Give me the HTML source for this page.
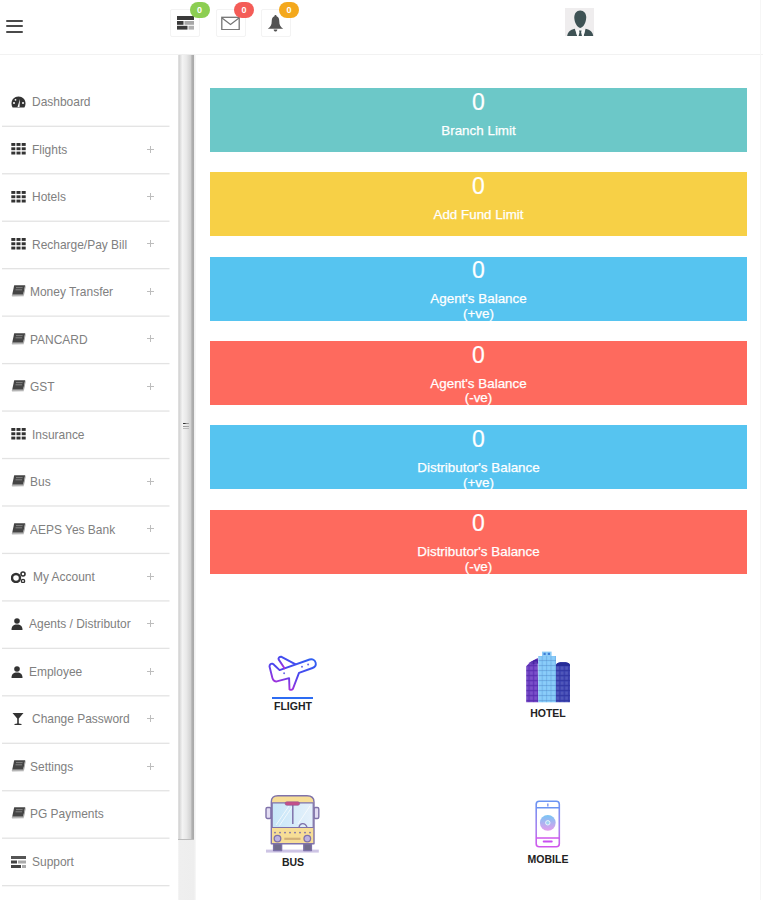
<!DOCTYPE html>
<html><head><meta charset="utf-8">
<style>
*{box-sizing:border-box;margin:0;padding:0}
html,body{width:763px;height:900px;overflow:hidden;background:#fff;font-family:"Liberation Sans",sans-serif}
.abs{position:absolute}
#hdr{position:absolute;left:0;top:0;width:763px;height:55px;border-bottom:1px solid #f2f2f2;background:#fff}
.hb{position:absolute;left:6px;width:17px;height:2.4px;background:#4a4a4a;border-radius:1px}
.ibox{position:absolute;top:8.7px;width:30px;height:28px;border:1px solid #f3f3f3;border-radius:2px}
.badge{position:absolute;width:20px;height:16px;border-radius:8px;color:#fff;font-weight:bold;font-size:9px;line-height:16px;text-align:center}
#side{position:absolute;left:0;top:55px;width:178px;height:845px;background:#fff}
.item{position:absolute;left:0;width:169.5px;height:47.5px}

.item .t{position:absolute;left:32px;top:15.6px;font-size:13px;color:#808080;white-space:nowrap;line-height:16px;transform:scaleX(0.92);transform-origin:0 0}
.item .ic{position:absolute;left:11px;top:17.5px;width:15px;height:12px}
.item .pl{position:absolute;left:147px;top:19.3px;width:7px;height:7px}
.item .pl:before{content:"";position:absolute;left:3px;top:0;width:1px;height:7px;background:#bdbdbd}
.item .pl:after{content:"";position:absolute;left:0;top:3px;width:7px;height:1px;background:#bdbdbd}
#sb{position:absolute;left:178px;top:54px;width:17.5px;height:846px;background:linear-gradient(to right,#f6f6f6 0,#efefef 1.5px,#eeeeee 16px,#f6f6f6 17.5px)}
#thumb{position:absolute;left:0.2px;top:0.5px;width:15.8px;height:785.5px;border-bottom:1.3px solid #bcbcbc;
 background:linear-gradient(to right,#e2e2e2 0,#d6d6d6 1.5px,#e6e6e6 3px,#f3f3f3 4.5px,#e8e8e8 8.5px,#d3d3d3 12.5px,#b0b0b0 14px,#a9a9a9 15.8px)}
.grip{position:absolute;left:5.3px;width:6px;height:1.3px}
.card{position:absolute;left:209.8px;width:537.4px;height:64px;color:#fff;text-align:center}
.card .n{position:absolute;left:0;right:0;top:0.5px;font-size:23px;line-height:26px;-webkit-text-stroke:0.2px #fff}
.card .l{position:absolute;left:0;right:0;top:35.7px;font-size:13.4px;line-height:14.5px;-webkit-text-stroke:0.25px #fff}
.svc{position:absolute;text-align:center;font-weight:bold;font-size:10.5px;color:#222}
</style></head><body>
<div id="hdr">
  <div class="hb" style="top:19.5px"></div>
  <div class="hb" style="top:25px"></div>
  <div class="hb" style="top:30.6px"></div>

  <div class="ibox" style="left:170px"></div>
  <div class="ibox" style="left:215.5px"></div>
  <div class="ibox" style="left:261px"></div>
  <!-- list icon -->
  <svg class="abs" style="left:176.5px;top:15.5px" width="17.5" height="14" viewBox="0 0 17.5 14">
    <rect x="0" y="0" width="17.5" height="4" fill="#3a3a3a"/>
    <rect x="0" y="5" width="6.5" height="3.8" fill="#3a3a3a"/><rect x="7.5" y="5" width="10" height="3.8" fill="#a8a8a8"/>
    <rect x="0" y="9.8" width="10.5" height="3.8" fill="#3a3a3a"/><rect x="11.5" y="9.8" width="6" height="3.8" fill="#b0b0b0"/>
  </svg>
  <!-- mail icon -->
  <svg class="abs" style="left:221px;top:16px" width="19" height="14" viewBox="0 0 19 14">
    <rect x="0.8" y="1.3" width="17.4" height="12.4" fill="none" stroke="#747474" stroke-width="1.3"/>
    <path d="M1 2 L9.5 8.5 L18 2" fill="none" stroke="#747474" stroke-width="1.2"/>
  </svg>
  <!-- bell -->
  <svg class="abs" style="left:267px;top:15px" width="17" height="17" viewBox="0 0 17 17">
    <path d="M8.5 0 C9.2 0 9.5 0.6 9.6 1.2 C11.6 1.8 12.3 3.8 12.3 6.5 C12.3 9.8 13.2 11.6 16.2 13.8 L0.8 13.8 C3.8 11.6 4.7 9.8 4.7 6.5 C4.7 3.8 5.4 1.8 7.4 1.2 C7.5 0.6 7.8 0 8.5 0 Z" fill="#535353"/>
    <path d="M6.6 14.4 C6.9 15.8 7.6 16.5 8.5 16.5 C9.4 16.5 10.1 15.8 10.4 14.4 Z" fill="#535353"/>
  </svg>
  <div class="badge" style="left:189.5px;top:1.5px;background:#8cce52">0</div>
  <div class="badge" style="left:234px;top:2px;background:#f45c57">0</div>
  <div class="badge" style="left:279px;top:2px;background:#f4a81c">0</div>

  <!-- avatar -->
  <svg class="abs" style="left:565px;top:7.5px" width="29" height="28.5" viewBox="0 0 29 28.5">
    <rect width="29" height="28.5" fill="#efedee"/>
    <path d="M15.2 2.6 C19 2.6 21.2 5.5 21.2 9.5 C21.2 14 18.5 19.6 15.2 19.9 C12 19.6 9.3 14 9.3 9.5 C9.3 5.5 11.5 2.6 15.2 2.6 Z" fill="#3e5254"/>
    <path d="M2.2 28 C2.8 24 5 22 9.8 20.8 L12.2 28 Z" fill="#3e5254"/>
    <path d="M28.2 28 C27.6 24 25.4 22 20.6 20.8 L18.6 28 Z" fill="#3e5254"/>
    <path d="M10.6 21.8 L20 21.8 L18.6 28 L12.2 28 Z" fill="#fbfbfb"/><path d="M14 22.6 L16.6 22.6 L16.1 24.3 L17 28 L13.6 28 L14.5 24.3 Z" fill="#3e5254"/>
  </svg>
</div>

<div id="side">
<div class="item" style="top:23.80px"><svg class="ic" viewBox="0 0 15 12"><path d="M7.5 0.5 C3.4 0.5 0.5 3.6 0.5 7.5 C0.5 9 0.9 10.4 1.6 11.5 L13.4 11.5 C14.1 10.4 14.5 9 14.5 7.5 C14.5 3.6 11.6 0.5 7.5 0.5 Z" fill="#333"/><path d="M6.5 11 L9 3 L8.5 11 Z" fill="#fff"/><circle cx="3" cy="7" r="1" fill="#fff"/><circle cx="12" cy="7" r="1" fill="#fff"/><circle cx="4.5" cy="3.8" r="0.9" fill="#fff"/></svg><div class="t" style="left:32px">Dashboard</div></div>
<div class="item" style="top:71.26px"><svg class="ic" viewBox="0 0 15 12" style="top:16.8px"><g fill="#333"><rect x="0.3" y="0" width="4" height="2.9"/><rect x="5.5" y="0" width="4" height="2.9"/><rect x="10.7" y="0" width="4" height="2.9"/><rect x="0.3" y="4.3" width="4" height="2.9"/><rect x="5.5" y="4.3" width="4" height="2.9"/><rect x="10.7" y="4.3" width="4" height="2.9"/><rect x="0.3" y="8.6" width="4" height="2.9"/><rect x="5.5" y="8.6" width="4" height="2.9"/><rect x="10.7" y="8.6" width="4" height="2.9"/></g></svg><div class="t" style="left:32px">Flights</div><div class="pl"></div></div>
<div class="item" style="top:118.72px"><svg class="ic" viewBox="0 0 15 12" style="top:16.8px"><g fill="#333"><rect x="0.3" y="0" width="4" height="2.9"/><rect x="5.5" y="0" width="4" height="2.9"/><rect x="10.7" y="0" width="4" height="2.9"/><rect x="0.3" y="4.3" width="4" height="2.9"/><rect x="5.5" y="4.3" width="4" height="2.9"/><rect x="10.7" y="4.3" width="4" height="2.9"/><rect x="0.3" y="8.6" width="4" height="2.9"/><rect x="5.5" y="8.6" width="4" height="2.9"/><rect x="10.7" y="8.6" width="4" height="2.9"/></g></svg><div class="t" style="left:32px">Hotels</div><div class="pl"></div></div>
<div class="item" style="top:166.18px"><svg class="ic" viewBox="0 0 15 12" style="top:16.8px"><g fill="#333"><rect x="0.3" y="0" width="4" height="2.9"/><rect x="5.5" y="0" width="4" height="2.9"/><rect x="10.7" y="0" width="4" height="2.9"/><rect x="0.3" y="4.3" width="4" height="2.9"/><rect x="5.5" y="4.3" width="4" height="2.9"/><rect x="10.7" y="4.3" width="4" height="2.9"/><rect x="0.3" y="8.6" width="4" height="2.9"/><rect x="5.5" y="8.6" width="4" height="2.9"/><rect x="10.7" y="8.6" width="4" height="2.9"/></g></svg><div class="t" style="left:32px">Recharge/Pay Bill</div><div class="pl"></div></div>
<div class="item" style="top:213.64px"><svg class="ic" viewBox="0 0 15 12" style="top:16.8px"><path d="M3.2 0.3 L14.2 0.3 L12.2 9.8 L1.2 9.8 Z" fill="#454545"/><path d="M12.2 9.8 L14.2 0.3 L14.6 1.8 L12.8 11.2 Z" fill="#9a9a9a"/><path d="M1.2 9.8 L12.2 9.8 L12.8 11.2 L1.4 11.6 C0.6 11.6 0.5 10.3 1.2 9.8 Z" fill="#b5b5b5"/><path d="M5 2.6 L11.6 2.6 M4.5 4.8 L11.1 4.8" stroke="#8a8a8a" stroke-width="0.9"/></svg><div class="t" style="left:30.3px">Money Transfer</div><div class="pl"></div></div>
<div class="item" style="top:261.10px"><svg class="ic" viewBox="0 0 15 12" style="top:16.8px"><path d="M3.2 0.3 L14.2 0.3 L12.2 9.8 L1.2 9.8 Z" fill="#454545"/><path d="M12.2 9.8 L14.2 0.3 L14.6 1.8 L12.8 11.2 Z" fill="#9a9a9a"/><path d="M1.2 9.8 L12.2 9.8 L12.8 11.2 L1.4 11.6 C0.6 11.6 0.5 10.3 1.2 9.8 Z" fill="#b5b5b5"/><path d="M5 2.6 L11.6 2.6 M4.5 4.8 L11.1 4.8" stroke="#8a8a8a" stroke-width="0.9"/></svg><div class="t" style="left:30.3px">PANCARD</div><div class="pl"></div></div>
<div class="item" style="top:308.56px"><svg class="ic" viewBox="0 0 15 12" style="top:16.8px"><path d="M3.2 0.3 L14.2 0.3 L12.2 9.8 L1.2 9.8 Z" fill="#454545"/><path d="M12.2 9.8 L14.2 0.3 L14.6 1.8 L12.8 11.2 Z" fill="#9a9a9a"/><path d="M1.2 9.8 L12.2 9.8 L12.8 11.2 L1.4 11.6 C0.6 11.6 0.5 10.3 1.2 9.8 Z" fill="#b5b5b5"/><path d="M5 2.6 L11.6 2.6 M4.5 4.8 L11.1 4.8" stroke="#8a8a8a" stroke-width="0.9"/></svg><div class="t" style="left:30.3px">GST</div><div class="pl"></div></div>
<div class="item" style="top:356.02px"><svg class="ic" viewBox="0 0 15 12" style="top:16.8px"><g fill="#333"><rect x="0.3" y="0" width="4" height="2.9"/><rect x="5.5" y="0" width="4" height="2.9"/><rect x="10.7" y="0" width="4" height="2.9"/><rect x="0.3" y="4.3" width="4" height="2.9"/><rect x="5.5" y="4.3" width="4" height="2.9"/><rect x="10.7" y="4.3" width="4" height="2.9"/><rect x="0.3" y="8.6" width="4" height="2.9"/><rect x="5.5" y="8.6" width="4" height="2.9"/><rect x="10.7" y="8.6" width="4" height="2.9"/></g></svg><div class="t" style="left:32px">Insurance</div></div>
<div class="item" style="top:403.48px"><svg class="ic" viewBox="0 0 15 12" style="top:16.8px"><path d="M3.2 0.3 L14.2 0.3 L12.2 9.8 L1.2 9.8 Z" fill="#454545"/><path d="M12.2 9.8 L14.2 0.3 L14.6 1.8 L12.8 11.2 Z" fill="#9a9a9a"/><path d="M1.2 9.8 L12.2 9.8 L12.8 11.2 L1.4 11.6 C0.6 11.6 0.5 10.3 1.2 9.8 Z" fill="#b5b5b5"/><path d="M5 2.6 L11.6 2.6 M4.5 4.8 L11.1 4.8" stroke="#8a8a8a" stroke-width="0.9"/></svg><div class="t" style="left:30.3px">Bus</div><div class="pl"></div></div>
<div class="item" style="top:450.94px"><svg class="ic" viewBox="0 0 15 12" style="top:16.8px"><path d="M3.2 0.3 L14.2 0.3 L12.2 9.8 L1.2 9.8 Z" fill="#454545"/><path d="M12.2 9.8 L14.2 0.3 L14.6 1.8 L12.8 11.2 Z" fill="#9a9a9a"/><path d="M1.2 9.8 L12.2 9.8 L12.8 11.2 L1.4 11.6 C0.6 11.6 0.5 10.3 1.2 9.8 Z" fill="#b5b5b5"/><path d="M5 2.6 L11.6 2.6 M4.5 4.8 L11.1 4.8" stroke="#8a8a8a" stroke-width="0.9"/></svg><div class="t" style="left:30.3px">AEPS Yes Bank</div><div class="pl"></div></div>
<div class="item" style="top:498.40px"><svg class="ic" viewBox="0 0 15 12"><circle cx="5" cy="7" r="4" fill="none" stroke="#333" stroke-width="2.4"/><circle cx="12" cy="3" r="2" fill="none" stroke="#333" stroke-width="1.6"/><circle cx="12" cy="10" r="1.6" fill="none" stroke="#333" stroke-width="1.4"/></svg><div class="t" style="left:32.7px">My Account</div><div class="pl"></div></div>
<div class="item" style="top:545.86px"><svg class="ic" viewBox="0 0 15 12"><circle cx="6" cy="3" r="2.8" fill="#333"/><path d="M0.5 12 C0.5 8 2.5 6.5 6 6.5 C9.5 6.5 11.5 8 11.5 12 Z" fill="#333"/></svg><div class="t" style="left:28.5px">Agents / Distributor</div><div class="pl"></div></div>
<div class="item" style="top:593.32px"><svg class="ic" viewBox="0 0 15 12"><circle cx="6" cy="3" r="2.8" fill="#333"/><path d="M0.5 12 C0.5 8 2.5 6.5 6 6.5 C9.5 6.5 11.5 8 11.5 12 Z" fill="#333"/></svg><div class="t" style="left:28.5px">Employee</div><div class="pl"></div></div>
<div class="item" style="top:640.78px"><svg class="ic" viewBox="0 0 15 12" style="left:12px"><path d="M0.5 0 L11.5 0 L6.8 5.5 L6.8 10.5 L9.5 11 L9.5 12 L2.5 12 L2.5 11 L5.2 10.5 L5.2 5.5 Z" fill="#333"/></svg><div class="t" style="left:31.7px">Change Password</div><div class="pl"></div></div>
<div class="item" style="top:688.24px"><svg class="ic" viewBox="0 0 15 12" style="top:16.8px"><path d="M3.2 0.3 L14.2 0.3 L12.2 9.8 L1.2 9.8 Z" fill="#454545"/><path d="M12.2 9.8 L14.2 0.3 L14.6 1.8 L12.8 11.2 Z" fill="#9a9a9a"/><path d="M1.2 9.8 L12.2 9.8 L12.8 11.2 L1.4 11.6 C0.6 11.6 0.5 10.3 1.2 9.8 Z" fill="#b5b5b5"/><path d="M5 2.6 L11.6 2.6 M4.5 4.8 L11.1 4.8" stroke="#8a8a8a" stroke-width="0.9"/></svg><div class="t" style="left:30.3px">Settings</div><div class="pl"></div></div>
<div class="item" style="top:735.70px"><svg class="ic" viewBox="0 0 15 12" style="top:16.8px"><path d="M3.2 0.3 L14.2 0.3 L12.2 9.8 L1.2 9.8 Z" fill="#454545"/><path d="M12.2 9.8 L14.2 0.3 L14.6 1.8 L12.8 11.2 Z" fill="#9a9a9a"/><path d="M1.2 9.8 L12.2 9.8 L12.8 11.2 L1.4 11.6 C0.6 11.6 0.5 10.3 1.2 9.8 Z" fill="#b5b5b5"/><path d="M5 2.6 L11.6 2.6 M4.5 4.8 L11.1 4.8" stroke="#8a8a8a" stroke-width="0.9"/></svg><div class="t" style="left:30.3px">PG Payments</div></div>
<div class="item" style="top:783.16px"><svg class="ic" viewBox="0 0 15 12"><rect x="0" y="0" width="15" height="3" fill="#555"/><rect x="0" y="4.5" width="6" height="3" fill="#444"/><rect x="7" y="4.5" width="8" height="3" fill="#aaa"/><rect x="0" y="9" width="10" height="3" fill="#444"/><rect x="11" y="9" width="4" height="3" fill="#aaa"/></svg><div class="t" style="left:31.7px">Support</div></div>
</div>
<svg class="abs" style="left:0;top:0" width="178" height="900" viewBox="0 0 178 900"><g fill="#e3e3e3"><rect x="2" y="125.65" width="167.5" height="1.3"/><rect x="2" y="173.11" width="167.5" height="1.3"/><rect x="2" y="220.57" width="167.5" height="1.3"/><rect x="2" y="268.03" width="167.5" height="1.3"/><rect x="2" y="315.49" width="167.5" height="1.3"/><rect x="2" y="362.95" width="167.5" height="1.3"/><rect x="2" y="410.41" width="167.5" height="1.3"/><rect x="2" y="457.87" width="167.5" height="1.3"/><rect x="2" y="505.33" width="167.5" height="1.3"/><rect x="2" y="552.79" width="167.5" height="1.3"/><rect x="2" y="600.25" width="167.5" height="1.3"/><rect x="2" y="647.71" width="167.5" height="1.3"/><rect x="2" y="695.17" width="167.5" height="1.3"/><rect x="2" y="742.63" width="167.5" height="1.3"/><rect x="2" y="790.09" width="167.5" height="1.3"/><rect x="2" y="837.55" width="167.5" height="1.3"/><rect x="2" y="885.01" width="167.5" height="1.3"/></g></svg>
<div id="sb"><div id="thumb"><div class="grip" style="top:368px;background:linear-gradient(to right,#333 0,#333 2px,#888 3px,#aaa 6px)"></div><div class="grip" style="top:371px;background:linear-gradient(to right,#999 0,#aaa 6px)"></div><div class="grip" style="top:373.5px;background:#bbb"></div></div></div>
<div class="abs" style="left:760px;top:0;width:1px;height:900px;background:#f6f6f6"></div>

<div class="card" style="top:88.00px;background:#6cc8c8"><div class="n">0</div><div class="l">Branch Limit</div></div>
<div class="card" style="top:172.36px;background:#f7d046"><div class="n">0</div><div class="l">Add Fund Limit</div></div>
<div class="card" style="top:256.72px;background:#56c4f0"><div class="n">0</div><div class="l">Agent's Balance<br>(+ve)</div></div>
<div class="card" style="top:341.08px;background:#fe6a5e"><div class="n">0</div><div class="l">Agent's Balance<br>(-ve)</div></div>
<div class="card" style="top:425.44px;background:#56c4f0"><div class="n">0</div><div class="l">Distributor's Balance<br>(+ve)</div></div>
<div class="card" style="top:509.80px;background:#fe6a5e"><div class="n">0</div><div class="l">Distributor's Balance<br>(-ve)</div></div>

<!-- FLIGHT -->
<svg class="abs" style="left:266px;top:652px" width="54" height="42" viewBox="0 0 54 42">
  <defs><linearGradient id="gf" x1="1" y1="0" x2="0.3" y2="1"><stop offset="0" stop-color="#2f62f2"/><stop offset="0.55" stop-color="#4a45ee"/><stop offset="1" stop-color="#b52ed8"/></linearGradient></defs>
  <g fill="none" stroke="url(#gf)" stroke-width="1.9" stroke-linejoin="round" stroke-linecap="round">
    <path d="M3.5 14.5 C3.5 12.5 5 11.5 6.4 11.7 C7.5 11.9 8 12.5 9 13.8 L13.6 18.1 L43.6 7.5 C46.5 6.5 49 8 49.7 10.9 C50.2 13.2 49.2 15 46.5 16 L33 20.8 L26.9 36.8 C26.5 37.8 24 38.2 23.5 37.5 L23.1 26.1 L11.7 29.2 C9 30 7 28.5 6.4 26.1 Z"/>
    <path d="M18.5 16.2 L12.6 7.4 C12 6 13.5 4.5 15.5 4.8 L29.2 12.1"/>
  </g>
  <g fill="#6a6ae8"><circle cx="18.1" cy="21.2" r="1"/><circle cx="36" cy="14.7" r="1"/><circle cx="42.1" cy="12.4" r="1"/></g>
</svg>
<div class="abs" style="left:272px;top:696.5px;width:41px;height:2.2px;background:#2d6cf2"></div>
<div class="svc" style="left:253px;top:700px;width:80px;line-height:12px">FLIGHT</div>

<!-- HOTEL -->
<svg class="abs" style="left:525px;top:650px" width="47" height="54" viewBox="0 0 47 54">
  <defs>
    <pattern id="win" x="0" y="1" width="4.4" height="5" patternUnits="userSpaceOnUse"><rect x="0.5" y="0.5" width="2.8" height="3.2" fill="#ffffff" opacity="0.12"/><rect x="0" y="4" width="4.4" height="1" fill="#1a1060" opacity="0.13"/><rect x="3.6" y="0" width="0.8" height="5" fill="#1a1060" opacity="0.1"/></pattern>
  </defs>
  <path d="M1.2 52.3 L1.2 16.3 L5 12.3 L12.6 8.2 L13.3 52.3 Z" fill="#6838c0"/>
  <path d="M5 12.3 L12.6 8.2 L13.3 13.5 L6 14.5 Z" fill="#4a22a8"/>
  <path d="M1.2 52.3 L1.2 16.3 L5 12.3 L12.6 8.2 L13.3 52.3 Z" fill="url(#win)"/>
  <rect x="13.3" y="6" width="17.7" height="46.3" fill="#7cc5f7"/>
  <rect x="17" y="1.6" width="9.6" height="4.6" fill="#8ccbf6"/>
  <rect x="18.5" y="2.8" width="2.2" height="2.2" fill="#3f7fd8"/><rect x="22.8" y="2.8" width="2.2" height="2.2" fill="#3f7fd8"/>
  <rect x="13.3" y="6" width="17.7" height="46.3" fill="url(#win)"/>
  <path d="M31 52.3 L31 14.8 C32 12.6 34 12.2 38 12.2 C42 12.2 44 12.6 45 14.8 L45 52.3 Z" fill="#3840b0"/>
  <path d="M31 16 L31 14.8 C32 12.6 34 12.2 38 12.2 C42 12.2 44 12.6 45 14.8 L45 16 Z" fill="#262c98"/>
  <rect x="31" y="16" width="14" height="36.3" fill="url(#win)"/>
</svg>
<div class="svc" style="left:508px;top:706.5px;width:80px;line-height:12px">HOTEL</div>

<!-- BUS -->
<svg class="abs" style="left:265px;top:794px" width="59" height="60" viewBox="0 0 59 60">
  <defs><linearGradient id="gw" x1="0" y1="0" x2="1" y2="0"><stop offset="0" stop-color="#c6e6f8"/><stop offset="1" stop-color="#e6f1fb"/></linearGradient></defs>
  <rect x="1" y="55.6" width="52.8" height="3" fill="#cdc4e4"/>
  <g stroke="#7f72aa" stroke-width="1.4" stroke-linejoin="round">
    <rect x="8.6" y="49" width="8" height="7.6" fill="#706c8c"/>
    <rect x="38.8" y="49" width="7.6" height="7.6" fill="#706c8c"/>
    <rect x="1" y="13.5" width="5" height="11" rx="1.5" fill="#e2dcf2"/>
    <rect x="49" y="13.5" width="4.8" height="11" rx="1.5" fill="#e2dcf2"/>
    <path d="M6.3 49.7 L6.3 8 C6.3 3.5 8.5 1.8 13 1.8 L42 1.8 C46.5 1.8 49 3.5 49 8 L49 49.7 Z" fill="#f7de96"/>
    <rect x="7.2" y="8.8" width="41" height="24.7" fill="url(#gw)" stroke-width="1.2"/>
  </g>
  <path d="M11 31 L24 12 M14.5 31.5 L27 13 M33 30 L45 12" stroke="#fff" stroke-width="1" opacity="0.7"/>
  <path d="M27.8 11 L27.8 30" stroke="#7f72aa" stroke-width="1.5"/>
  <path d="M34 33 C35 29 40 28 42 33" fill="none" stroke="#7f72aa" stroke-width="1.3"/>
  <rect x="20.1" y="7.8" width="14.5" height="3.5" rx="1.7" fill="#c4508a" stroke="#8d5a8e" stroke-width="0.6"/>
  <g fill="#7f72aa"><circle cx="10" cy="38.6" r="0.95"/><circle cx="15" cy="38.6" r="0.95"/><circle cx="20" cy="38.6" r="0.95"/><circle cx="25" cy="38.6" r="0.95"/><circle cx="30" cy="38.6" r="0.95"/><circle cx="35" cy="38.6" r="0.95"/><circle cx="40" cy="38.6" r="0.95"/><circle cx="45" cy="38.6" r="0.95"/></g>
  <circle cx="12.5" cy="44.6" r="3.3" fill="#bdb2e0" stroke="#7f72aa" stroke-width="1.3"/>
  <circle cx="42.3" cy="44.6" r="3.3" fill="#bdb2e0" stroke="#7f72aa" stroke-width="1.3"/>
  <rect x="19.3" y="43.7" width="16.2" height="2.2" fill="#d2b078"/>
</svg>
<div class="svc" style="left:253px;top:855.5px;width:80px;line-height:12px">BUS</div>

<!-- MOBILE -->
<svg class="abs" style="left:534px;top:799px" width="28" height="50" viewBox="0 0 28 50">
  <defs><linearGradient id="gm" x1="0" y1="0" x2="0" y2="1"><stop offset="0" stop-color="#6a94f2"/><stop offset="0.6" stop-color="#a883f0"/><stop offset="1" stop-color="#d056ec"/></linearGradient>
  <linearGradient id="gc" x1="0" y1="0" x2="0" y2="1"><stop offset="0" stop-color="#78c6f4"/><stop offset="1" stop-color="#e29ded"/></linearGradient></defs>
  <rect x="2.2" y="2.2" width="23.1" height="45.5" rx="3" fill="none" stroke="url(#gm)" stroke-width="1.6"/>
  <path d="M2.2 8.7 L25.3 8.7 M2.2 39 L25.3 39" stroke="url(#gm)" stroke-width="1.5"/>
  <circle cx="13.8" cy="23.8" r="7.9" fill="url(#gc)"/>
  <circle cx="13.8" cy="23.8" r="2.2" fill="#9fd2f2" stroke="#eaf4fb" stroke-width="1"/>
  <rect x="8.7" y="41.6" width="10" height="1.9" rx="0.9" fill="#c94ff2"/>
  <rect x="13" y="4.5" width="1.6" height="3" fill="#8a9ff0"/>
</svg>
<div class="svc" style="left:508px;top:852.5px;width:80px;line-height:12px">MOBILE</div>

</body></html>
